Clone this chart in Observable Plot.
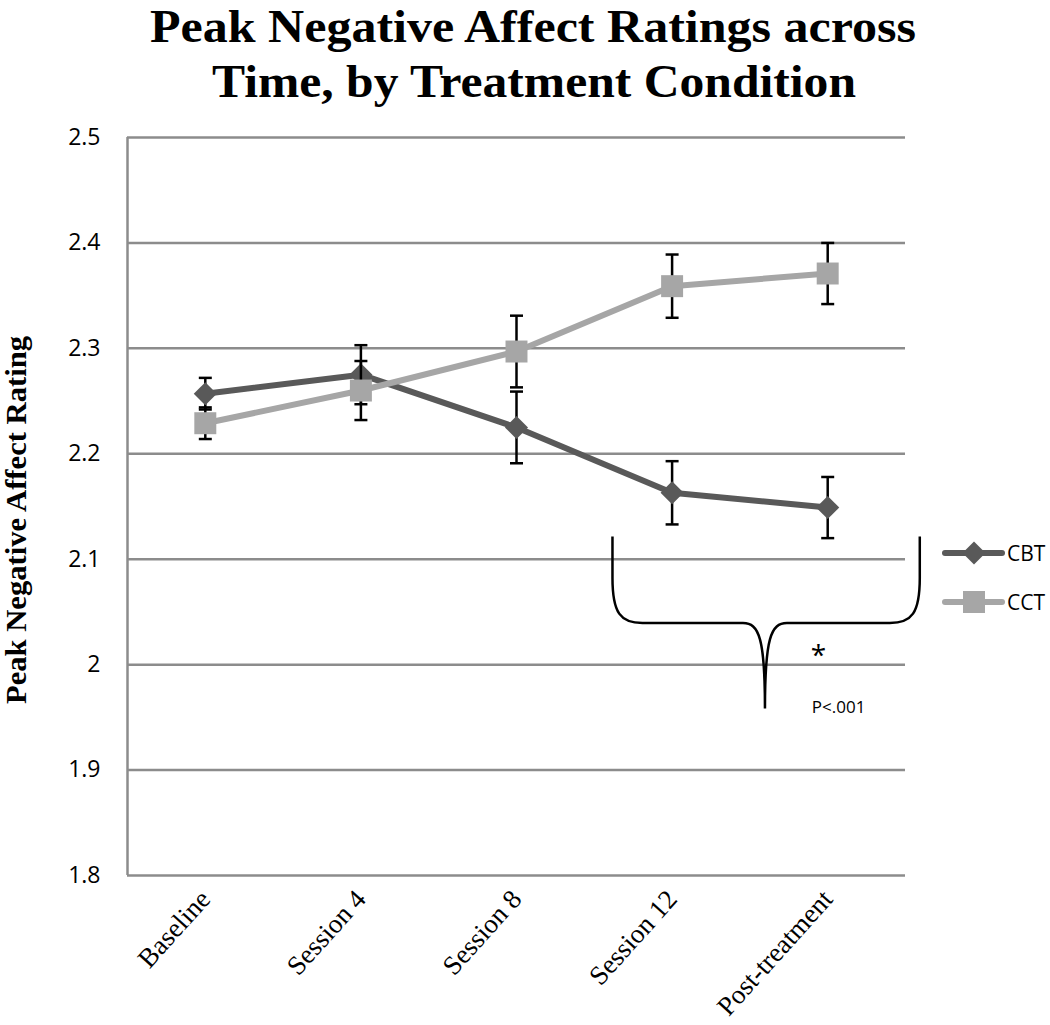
<!DOCTYPE html>
<html><head><meta charset="utf-8">
<script src="https://cdn.jsdelivr.net/npm/d3@7"></script>
<script src="https://cdn.jsdelivr.net/npm/@observablehq/plot@0.6"></script>
<style>
body{margin:0;background:#fff;}
#wrap{position:relative;width:1050px;height:1025px;overflow:hidden;background:#fff;}
#wrap > svg{position:absolute;left:0;top:0;}
#overlay{position:absolute;left:0;top:0;pointer-events:none;}
</style></head><body>
<div id="wrap"></div>
<script>
// ---- data ----
const categories = ["Baseline", "Session 4", "Session 8", "Session 12", "Post-treatment"];
const seriesNames = ["CBT", "CCT"];
const cbtMean = [2.257, 2.275, 2.225, 2.163, 2.149];
const cbtErr  = [0.015, 0.028, 0.034, 0.030, 0.029];
const cctMean = [2.229, 2.260, 2.297, 2.359, 2.371];
const cctErr  = [0.015, 0.028, 0.034, 0.030, 0.029];
const yTicks = [1.8, 1.9, 2.0, 2.1, 2.2, 2.3, 2.4, 2.5];
const titleLines = ["Peak Negative Affect Ratings across", "Time, by Treatment Condition"];
const yLabel = "Peak Negative Affect Rating";
const sigStar = "*";
const sigText = "P<.001";
// brace annotation (data units: x = category index, y = rating)
const braceX = [2.62, 3.60, 4.595];
const braceY = [2.121, 2.039, 1.958];
const starPos = {x: 3.94, y: 2.016};
const pPos = {x: 4.07, y: 1.959};

// ---- styles ----
const cbtColor = "#595959";
const cctColor = "#a6a6a6";
const gridColor = "#8c8c8c";

const rows = (means, errs, name) => categories.map((c, i) => ({
  i, cat: c, name, mean: means[i], lo: means[i] - errs[i], hi: means[i] + errs[i]
}));
const cbt = rows(cbtMean, cbtErr, "CBT");
const cct = rows(cctMean, cctErr, "CCT");

const capSymbol = {draw(ctx) { ctx.moveTo(-6.5, 0); ctx.lineTo(6.5, 0); }};

function errorMarks(data) {
  return [
    Plot.ruleX(data, {x: "i", y1: "lo", y2: "hi", stroke: "#000", strokeWidth: 2.5}),
    Plot.dot(data, {x: "i", y: "lo", symbol: capSymbol, stroke: "#000", strokeWidth: 2.5, r: 4}),
    Plot.dot(data, {x: "i", y: "hi", symbol: capSymbol, stroke: "#000", strokeWidth: 2.5, r: 4})
  ];
}

const braceMark = (index, scales) => {
  const x = scales.x, y = scales.y;
  const [xa, xt, xb] = braceX.map(x);
  const [ya, ym, yt] = braceY.map(y);
  const p = d3.path();
  p.moveTo(xa, ya);
  p.lineTo(xa, ym - 45);
  p.bezierCurveTo(xa, ym - 10, xa + 8, ym, xa + 30, ym);
  p.lineTo(xt - 22, ym);
  p.bezierCurveTo(xt - 6, ym, xt, ym + 15, xt, yt);
  p.bezierCurveTo(xt, ym + 15, xt + 6, ym, xt + 22, ym);
  p.lineTo(xb - 30, ym);
  p.bezierCurveTo(xb - 8, ym, xb, ym - 10, xb, ym - 45);
  p.lineTo(xb, ya);
  const el = document.createElementNS("http://www.w3.org/2000/svg", "path");
  el.setAttribute("d", p.toString());
  el.setAttribute("fill", "none");
  el.setAttribute("stroke", "#000");
  el.setAttribute("stroke-width", "2.5");
  return el;
};

const chart = Plot.plot({
  width: 1050,
  height: 1025,
  marginTop: 137,
  marginBottom: 150,
  marginLeft: 127,
  marginRight: 145,
  style: {background: "transparent", overflow: "visible"},
  x: {type: "linear", domain: [-0.5, 4.5]},
  y: {domain: [1.8, 2.5]},
  marks: [
    Plot.ruleY(yTicks, {stroke: gridColor, strokeWidth: 2.5}),
    Plot.ruleX([-0.5], {stroke: gridColor, strokeWidth: 2.5}),
    Plot.axisY({ticks: yTicks, tickSize: 0, tickPadding: 27, tickFormat: d => String(+d.toFixed(1)),
      fontSize: 23, fontFamily: "Open Sans", label: null}),
    Plot.axisX({ticks: [0, 1, 2, 3, 4], tickFormat: i => categories[i], tickRotate: -48, tickSize: 0,
      tickPadding: 19, fontSize: 27, fontFamily: "Liberation Serif", label: null}),
    Plot.line(cbt, {x: "i", y: "mean", stroke: cbtColor, strokeWidth: 6}),
    ...errorMarks(cbt),
    Plot.dot(cbt, {x: "i", y: "mean", symbol: "diamond2", r: 10.4, fill: cbtColor}),
    Plot.line(cct, {x: "i", y: "mean", stroke: cctColor, strokeWidth: 6}),
    ...errorMarks(cct),
    Plot.dot(cct, {x: "i", y: "mean", symbol: "square", r: 12.4, fill: cctColor}),
    braceMark,
    Plot.text([starPos], {x: "x", y: "y", dy: 8, text: () => sigStar, fontSize: 28, fontFamily: "Open Sans", fill: "#000"}),
    Plot.text([pPos], {x: "x", y: "y", text: () => sigText, fontSize: 17, fontFamily: "Open Sans", fill: "#000"})
  ]
});

const wrap = document.getElementById("wrap");
wrap.appendChild(chart);

// overlay: title, y label, legend
const ov = d3.select(wrap).append("svg").attr("id", "overlay").attr("width", 1050).attr("height", 1025);
const tg = ov.append("g").attr("font-family", "Liberation Serif, Times New Roman, serif").attr("font-weight", "bold")
  .attr("text-anchor", "middle").attr("fill", "#000");
tg.append("text").attr("x", 533).attr("y", 42).attr("font-size", 46).attr("textLength", 766)
  .attr("lengthAdjust", "spacingAndGlyphs").text(titleLines[0]);
tg.append("text").attr("x", 534).attr("y", 97).attr("font-size", 46).attr("textLength", 644)
  .attr("lengthAdjust", "spacingAndGlyphs").text(titleLines[1]);
ov.append("text").attr("transform", "translate(26,520) rotate(-90)")
  .attr("font-family", "Liberation Serif, Times New Roman, serif").attr("font-weight", "bold")
  .attr("font-size", 29).attr("text-anchor", "middle").attr("fill", "#000")
  .attr("textLength", 368).attr("lengthAdjust", "spacingAndGlyphs").text(yLabel);

const legend = [
  {name: seriesNames[0], color: cbtColor, sym: "diamond", y: 553},
  {name: seriesNames[1], color: cctColor, sym: "square", y: 602}
];
for (const l of legend) {
  const g = ov.append("g");
  g.append("line").attr("x1", 945).attr("x2", 1002).attr("y1", l.y).attr("y2", l.y)
    .attr("stroke", l.color).attr("stroke-width", 6).attr("stroke-linecap", "round");
  if (l.sym === "diamond") {
    g.append("path").attr("d", d3.symbol(d3.symbolDiamond2, 337)()).attr("transform", `translate(974,${l.y})`).attr("fill", l.color);
  } else {
    g.append("rect").attr("x", 963).attr("y", l.y - 11).attr("width", 22).attr("height", 22).attr("fill", l.color);
  }
  g.append("text").attr("x", 1007).attr("y", l.y).attr("dy", "0.36em").attr("font-family", "Open Sans")
    .attr("font-size", 21).attr("fill", "#000").text(l.name);
}
</script>
</body></html>
